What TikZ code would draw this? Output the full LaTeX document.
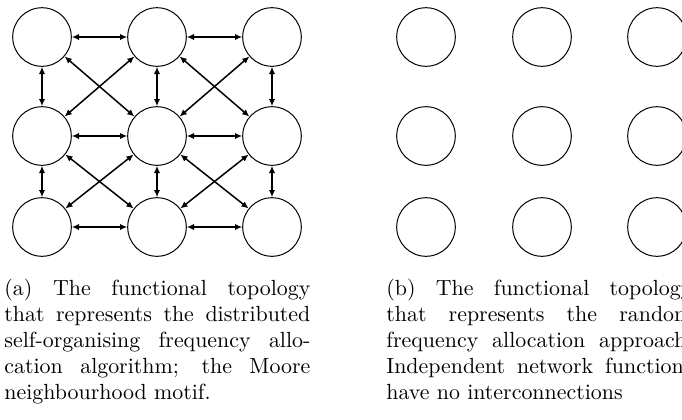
\documentclass[tikz,border=0pt]{standalone}
\usetikzlibrary{arrows.meta}
\newlength{\nfsize}
\setlength{\nfsize}{29.3pt}

\begin{document}
\begin{tikzpicture}[x=0.5pt, y=-0.5pt,
  nf/.style={circle, draw, line width=0.5pt, minimum size=\nfsize, inner sep=0pt},
  link/.style={{Latex[length=3.6pt,width=3.2pt]}-{Latex[length=3.6pt,width=3.2pt]}, line width=0.75pt},
  subcap/.style={inner sep=0pt, anchor=base west, text width=153pt, align=justify,
    font=\fontsize{10.95}{13}\selectfont}]
  \useasboundingbox (0,0) rectangle (682,419);
  % (a) moore neighbourhood
  \foreach \col/\x in {1/42,2/157,3/272} {
    \foreach \row/\y in {1/37,2/136,3/227} {
      \node[nf] (m\row\col) at (\x,\y) {};
    }
  }
  \foreach \row in {1,2,3} {
    \draw[link] (m\row1) -- (m\row2);
    \draw[link] (m\row2) -- (m\row3);
    \draw[link] (m1\row) -- (m2\row);
    \draw[link] (m2\row) -- (m3\row);
  }
  \foreach \row/\nrow in {1/2,2/3} {
    \foreach \col/\ncol in {1/2,2/3} {
      \draw[link] (m\row\col) -- (m\nrow\ncol);
      \draw[link] (m\row\ncol) -- (m\nrow\col);
    }
  }
  % (b) no interconnections
  \foreach \col/\x in {1/426,2/542,3/657} {
    \foreach \row/\y in {1/37,2/136,3/227} {
      \node[nf] (r\row\col) at (\x,\y) {};
    }
  }
  \node[subcap] (capa) at (4,295) {(a) The functional topology\linebreak
    that represents the distributed\linebreak
    self-organising frequency allo-\linebreak
    cation algorithm; the Moore\linebreak
    neighbourhood motif.};
  \node[subcap] (capb) at (386,295) {(b) The functional topology\linebreak
    that represents the random\linebreak
    frequency allocation approach.\linebreak
    Independent network functions\linebreak
    have no interconnections};
\end{tikzpicture}
\end{document}
